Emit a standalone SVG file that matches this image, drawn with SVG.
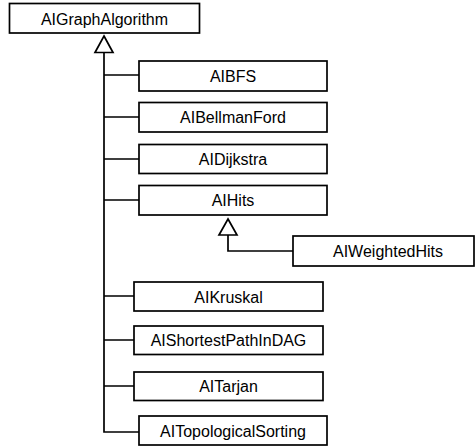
<svg xmlns="http://www.w3.org/2000/svg" width="475" height="446" viewBox="0 0 475 446">
<style>
.box{fill:#fff;stroke:#000;stroke-width:1.7}
.lbl{font-family:"Liberation Sans",Arial,Helvetica,sans-serif;font-size:16px;fill:#000;text-anchor:middle}
.ln{fill:none;stroke:#000;stroke-width:1.7}
.tri{fill:#fff;stroke:#000;stroke-width:1.7;stroke-linejoin:miter}
</style>
<rect width="475" height="446" fill="#fff"/>
<g id="connectors">
<path class="ln" d="M104,52.5 V432 H139"/>
<path class="ln" d="M104,75 H139 M104,117 H139 M104,159 H139 M104,200 H139 M104,296 H134 M104,340 H134 M104,386 H134"/>
<polygon class="tri" points="104,36 113,52.5 95,52.5"/>
<path class="ln" d="M228,235 V251 H293"/>
<polygon class="tri" points="228,219 237,235 219,235"/>
</g>
<g id="AIGraphAlgorithm"><rect class="box" x="9.5" y="3.5" width="190" height="29.5"/><text class="lbl" x="104.5" y="24.5">AIGraphAlgorithm</text></g>
<g id="AIBFS"><rect class="box" x="139" y="61" width="188" height="30"/><text class="lbl" x="233" y="82">AIBFS</text></g>
<g id="AIBellmanFord"><rect class="box" x="139" y="102.5" width="188" height="29.5"/><text class="lbl" x="233" y="123">AIBellmanFord</text></g>
<g id="AIDijkstra"><rect class="box" x="139" y="144.5" width="188" height="29"/><text class="lbl" x="233" y="165">AIDijkstra</text></g>
<g id="AIHits"><rect class="box" x="139" y="185.5" width="188" height="29.5"/><text class="lbl" x="233" y="206">AIHits</text></g>
<g id="AIWeightedHits"><rect class="box" x="293" y="236" width="181" height="30"/><text class="lbl" x="388" y="257">AIWeightedHits</text></g>
<g id="AIKruskal"><rect class="box" x="134" y="282" width="189" height="29"/><text class="lbl" x="228.5" y="302.5">AIKruskal</text></g>
<g id="AIShortestPathInDAG"><rect class="box" x="134" y="326" width="189" height="28.5"/><text class="lbl" x="228.5" y="346">AIShortestPathInDAG</text></g>
<g id="AITarjan"><rect class="box" x="134" y="372" width="189" height="28.5"/><text class="lbl" x="228.5" y="392">AITarjan</text></g>
<g id="AITopologicalSorting"><rect class="box" x="139" y="416" width="188" height="29"/><text class="lbl" x="233" y="436.5">AITopologicalSorting</text></g>
</svg>
